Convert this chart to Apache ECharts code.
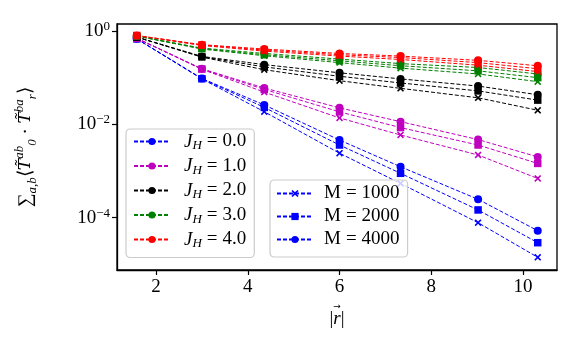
<!DOCTYPE html>
<html>
<head>
<meta charset="utf-8">
<script src="https://cdn.jsdelivr.net/npm/echarts@6/dist/echarts.min.js"></script>
<style>
  html, body { margin: 0; padding: 0; background: #fff; }
  #chart { width: 581px; height: 353px; }
</style>
</head>
<body>
<div id="chart"></div>
<script>
// distances |r|
const rVals = [1.58, 3.0, 4.36, 6.0, 7.33, 9.02, 10.32]

const jhLabels = ['0.0', '1.0', '2.0', '3.0', '4.0']
const mLabels  = ['1000', '2000', '4000']

// J_H = 0.0
const jh0_m1000 = [0.68, 0.094, 0.0186, 0.0024, 0.00054, 0.0000777, 0.0000141]
const jh0_m2000 = [0.68, 0.095, 0.023, 0.0036, 0.00089, 0.000146, 0.000029]
const jh0_m4000 = [0.68, 0.096, 0.026, 0.0046, 0.00123, 0.000247, 0.0000524]
// J_H = 1.0
const jh1_m1000 = [0.70, 0.151, 0.049, 0.0137, 0.0059, 0.0022, 0.00069]
const jh1_m2000 = [0.70, 0.153, 0.056, 0.0185, 0.0085, 0.0036, 0.00145]
const jh1_m4000 = [0.70, 0.155, 0.060, 0.0225, 0.0114, 0.0047, 0.0020]
// J_H = 2.0
const jh2_m1000 = [0.74, 0.275, 0.148, 0.086, 0.059, 0.037, 0.020]
const jh2_m2000 = [0.74, 0.28, 0.17, 0.107, 0.077, 0.052, 0.033]
const jh2_m4000 = [0.74, 0.285, 0.19, 0.127, 0.094, 0.066, 0.043]
// J_H = 3.0
const jh3_m1000 = [0.78, 0.41, 0.295, 0.21, 0.16, 0.12, 0.082]
const jh3_m2000 = [0.78, 0.42, 0.31, 0.23, 0.18, 0.14, 0.10]
const jh3_m4000 = [0.78, 0.43, 0.33, 0.25, 0.20, 0.165, 0.12]
// J_H = 4.0
const jh4_m1000 = [0.80, 0.49, 0.37, 0.29, 0.245, 0.185, 0.135]
const jh4_m2000 = [0.80, 0.50, 0.39, 0.31, 0.27, 0.21, 0.155]
const jh4_m4000 = [0.80, 0.51, 0.41, 0.33, 0.29, 0.235, 0.18]

const xTicks = [2, 4, 6, 8, 10]
const yTicks = [1, 0.01, 0.0001]

const groups = [
  [jh0_m1000, jh0_m2000, jh0_m4000],
  [jh1_m1000, jh1_m2000, jh1_m4000],
  [jh2_m1000, jh2_m2000, jh2_m4000],
  [jh3_m1000, jh3_m2000, jh3_m4000],
  [jh4_m1000, jh4_m2000, jh4_m4000],
]

const COLORS = ['#0000ff', '#bf00bf', '#000000', '#008000', '#ff0000']
const CROSS = 'path://M0,1.6L1.6,0L5,3.4L8.4,0L10,1.6L6.6,5L10,8.4L8.4,10L5,6.6L1.6,10L0,8.4L3.4,5Z'
const SYMBOLS = [CROSS, 'rect', 'circle']
const SIZES = [7, 7.5, 8]
const FONT = 'Liberation Serif'

function lineSeries(name, color, symbol, size, data) {
  return {
    name,
    type: 'line',
    data,
    symbol,
    symbolSize: size,
    showSymbol: true,
    animation: false,
    lineStyle: { color, width: 1, type: [4, 2] },
    itemStyle: { color, borderWidth: 0 },
    emphasis: { disabled: true },
  }
}

const series = []
groups.forEach((g, j) => {
  g.forEach((vals, m) => {
    series.push(lineSeries('d' + j + '_' + m, COLORS[j], SYMBOLS[m], SIZES[m],
      vals.map((v, i) => [rVals[i], v])))
  })
})
// legend-only entries
const jhNames = jhLabels.map((l) => 'J_H=' + l)
const mNames  = mLabels.map((l) => 'M=' + l)
jhNames.forEach((n, j) => series.push(lineSeries(n, COLORS[j], 'circle', 8, [])))
mNames.forEach((n, m) => series.push(lineSeries(n, COLORS[0], SYMBOLS[m], SIZES[m], [])))

const txt = { fontFamily: FONT, fontSize: 19, color: '#000', lineHeight: 22 }
const eq = Object.assign({}, txt, { padding: [0, 5, 0, 5] })
const legendBase = {
  orient: 'vertical',
  itemWidth: 36,
  itemHeight: 9,
  itemGap: 4,
  backgroundColor: 'rgba(255,255,255,0.8)',
  borderColor: '#cccccc',
  borderWidth: 1.2,
  borderRadius: 4,
  selectedMode: false,
}

const option = {
  backgroundColor: '#fff',
  animation: false,
  grid: { left: 117, right: 24, top: 24, bottom: 83, show: true, borderColor: '#000', borderWidth: 1.3, backgroundColor: 'transparent' },
  legend: [
    Object.assign({}, legendBase, {
      data: jhNames,
      left: 126, top: 129,
      padding: [3, 8, 7, 7],
      formatter: (name) => '{i|J}{s|H}{e|=}{n|' + name.split('=')[1] + '}',
      textStyle: {
        padding: [0, 0, 0, 9],
        rich: {
          i: Object.assign({}, txt, { fontStyle: 'italic' }),
          s: { fontFamily: FONT, fontStyle: 'italic', fontSize: 13, lineHeight: 11, verticalAlign: 'bottom', color: '#000' },
          e: eq,
          n: txt,
        },
      },
    }),
    Object.assign({}, legendBase, {
      data: mNames,
      left: 270, top: 180,
      padding: [4, 8, 8, 6],
      formatter: (name) => '{n|M}{e|=}{n|' + name.split('=')[1] + '}',
      textStyle: { padding: [0, 0, 0, 6], rich: { n: txt, e: eq } },
    }),
  ],
  xAxis: {
    type: 'value',
    min: 1.15,
    max: 10.74,
    name: '{a|\u2192}\n{v||}{t|r}{v||}',
    nameLocation: 'middle',
    nameGap: 28,
    nameTextStyle: {
      rich: {
        a: { fontFamily: 'DejaVu Sans', fontSize: 9, lineHeight: 6, color: '#000' },
        v: Object.assign({}, txt, { fontSize: 19, lineHeight: 20 }),
        t: Object.assign({}, txt, { fontSize: 19, lineHeight: 20, fontStyle: 'italic' }),
      },
    },
    axisLine: { show: true, lineStyle: { color: '#000', width: 1.3 } },
    axisTick: { show: true, length: 5, lineStyle: { color: '#000', width: 1.2 }, customValues: xTicks },
    axisLabel: { margin: 8, customValues: xTicks, fontFamily: FONT, fontSize: 19, color: '#000' },
    splitLine: { show: false },
  },
  yAxis: {
    type: 'log',
    logBase: 10,
    min: Math.pow(10, -5.123),
    max: Math.pow(10, 0.15),
    name: '{b|\u2211}{s|a,b}{b|\u27E8}{i|T\u0303}{p|ab}{s|0}{b| \u00B7 }{i|T\u0303}{p|ba}{s|r}{b|\u27E9}',
    nameLocation: 'middle',
    nameGap: 78,
    nameTextStyle: {
      rich: {
        b: Object.assign({}, txt, { fontSize: 19, lineHeight: 26 }),
        i: { fontFamily: 'DejaVu Serif', fontSize: 17, lineHeight: 26, fontStyle: 'italic', color: '#000' },
        s: { fontFamily: FONT, fontStyle: 'italic', fontSize: 13, lineHeight: 12, verticalAlign: 'bottom', color: '#000' },
        p: { fontFamily: FONT, fontStyle: 'italic', fontSize: 13, lineHeight: 12, verticalAlign: 'top', color: '#000' },
      },
    },
    axisLine: { show: true, lineStyle: { color: '#000', width: 1.3 } },
    axisTick: { show: true, length: 5, lineStyle: { color: '#000', width: 1.2 }, customValues: yTicks },
    axisLabel: {
      margin: 7,
      customValues: yTicks,
      formatter: (v) => {
        const e = Math.round(Math.log10(v))
        return '{b|10}{e|' + (e === 0 ? '0' : '\u2212' + (-e)) + '}'
      },
      rich: {
        b: Object.assign({}, txt),
        e: { fontFamily: FONT, fontSize: 13, lineHeight: 11, verticalAlign: 'top', color: '#000' },
      },
    },
    minorTick: { show: false },
    splitLine: { show: false },
  },
  series,
}

const chart = echarts.init(document.getElementById('chart'))
chart.setOption(option)
</script>
</body>
</html>
